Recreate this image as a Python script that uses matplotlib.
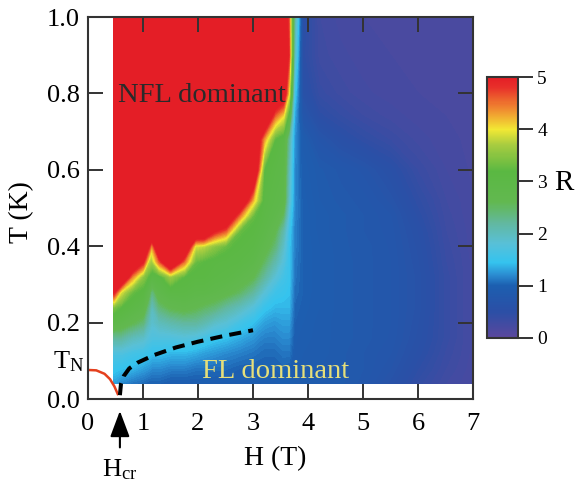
import numpy as np
import matplotlib.pyplot as plt
from matplotlib.colors import LinearSegmentedColormap, Normalize

plt.rcParams['font.family'] = ['Liberation Serif', 'DejaVu Serif']
plt.rcParams['mathtext.fontset'] = 'custom'
plt.rcParams['mathtext.rm'] = 'Liberation Serif'
plt.rcParams['mathtext.it'] = 'Liberation Serif:italic'

# grid of the map: H (T) columns, T (K) rows
H_nodes = [0.47, 0.6, 0.8, 1.0, 1.1, 1.16, 1.3, 1.5, 1.75, 1.95, 2.1, 2.3, 2.5,
           2.75, 3.0, 3.2, 3.4, 3.55, 3.65, 3.75, 3.9, 4.2, 4.6, 5.0, 5.5, 6.0,
           6.5, 7.0]
T_nodes = [0.042, 0.08, 0.12, 0.16, 0.2, 0.24, 0.28, 0.32, 0.36, 0.40, 0.44,
           0.48, 0.52, 0.6, 0.68, 0.74, 0.8, 0.9, 1.0]

# R, one list per H column (T going up); >5 shows as red
R_cols = [
    [1.3, 1.5, 1.7, 2.2, 2.9, 3.4, 5.0, 6, 6, 6, 6, 6, 6, 6, 6, 6, 6, 6, 6],
    [1.2, 1.45, 1.7, 2.2, 2.8, 3.2, 3.9, 6, 6, 6, 6, 6, 6, 6, 6, 6, 6, 6, 6],
    [1.1, 1.4, 1.6, 2.0, 2.6, 3.0, 3.3, 4.4, 6, 6, 6, 6, 6, 6, 6, 6, 6, 6, 6],
    [1.05, 1.3, 1.55, 1.9, 2.4, 2.8, 3.1, 3.5, 5.0, 6, 6, 6, 6, 6, 6, 6, 6, 6, 6],
    [1.0, 1.25, 1.5, 1.75, 2.0, 2.3, 2.7, 3.2, 3.8, 5.0, 6, 6, 6, 6, 6, 6, 6, 6, 6],
    [1.0, 1.2, 1.45, 1.7, 1.85, 1.95, 2.3, 3.0, 3.6, 4.2, 6, 6, 6, 6, 6, 6, 6, 6, 6],
    [1.0, 1.2, 1.45, 1.7, 2.0, 2.4, 2.8, 3.1, 4.6, 6, 6, 6, 6, 6, 6, 6, 6, 6, 6],
    [0.95, 1.15, 1.4, 1.7, 2.1, 2.6, 3.0, 3.6, 6, 6, 6, 6, 6, 6, 6, 6, 6, 6, 6],
    [0.95, 1.15, 1.4, 1.75, 2.2, 2.7, 3.0, 3.2, 4.5, 6, 6, 6, 6, 6, 6, 6, 6, 6, 6],
    [0.95, 1.1, 1.35, 1.7, 2.2, 2.6, 2.9, 3.1, 3.3, 3.9, 6, 6, 6, 6, 6, 6, 6, 6, 6],
    [0.95, 1.1, 1.3, 1.6, 2.1, 2.5, 2.9, 3.1, 3.2, 3.8, 6, 6, 6, 6, 6, 6, 6, 6, 6],
    [0.95, 1.05, 1.25, 1.5, 1.9, 2.4, 2.8, 3.0, 3.1, 3.5, 5.0, 6, 6, 6, 6, 6, 6, 6, 6],
    [0.95, 1.05, 1.2, 1.45, 1.8, 2.2, 2.7, 2.95, 3.05, 3.3, 4.6, 6, 6, 6, 6, 6, 6, 6, 6],
    [0.95, 1.0, 1.15, 1.35, 1.6, 2.0, 2.5, 2.8, 3.0, 3.1, 3.3, 4.5, 6, 6, 6, 6, 6, 6, 6],
    [0.95, 1.0, 1.1, 1.25, 1.45, 1.75, 2.2, 2.6, 2.85, 3.0, 3.1, 3.3, 4.2, 6, 6, 6, 6, 6, 6],
    [0.95, 1.0, 1.05, 1.15, 1.3, 1.5, 1.8, 2.2, 2.5, 2.75, 2.9, 3.0, 3.05, 3.2, 4.3, 6, 6, 6, 6],
    [0.95, 1.0, 1.05, 1.15, 1.25, 1.4, 1.55, 1.8, 2.1, 2.4, 2.6, 2.8, 2.9, 3.0, 3.2, 4.5, 6, 6, 6],
    [0.98, 1.02, 1.1, 1.2, 1.3, 1.4, 1.5, 1.6, 1.75, 1.9, 2.1, 2.5, 2.8, 2.9, 3.0, 4.0, 5.5, 6, 6],
    [0.95, 1.0, 1.1, 1.2, 1.3, 1.4, 1.45, 1.5, 1.5, 1.5, 1.55, 1.7, 1.9, 2.0, 2.2, 3.0, 4.0, 4.8, 4.6],
    [0.92, 0.93, 0.95, 0.97, 1.0, 1.03, 1.07, 1.1, 1.12, 1.15, 1.15, 1.18, 1.2, 1.2, 1.25, 1.35, 1.6, 2.0, 2.2],
    [0.9, 0.9, 0.92, 0.94, 0.96, 0.98, 1.0, 1.0, 1.0, 1.0, 1.0, 1.0, 0.98, 0.95, 0.9, 0.75, 0.6, 0.5, 0.55],
    [0.88, 0.88, 0.9, 0.9, 0.9, 0.92, 0.92, 0.92, 0.92, 0.92, 0.9, 0.9, 0.88, 0.85, 0.7, 0.5, 0.38, 0.3, 0.28],
    [0.85, 0.85, 0.85, 0.86, 0.86, 0.86, 0.86, 0.86, 0.86, 0.85, 0.85, 0.85, 0.82, 0.78, 0.55, 0.4, 0.3, 0.25, 0.22],
    [0.78, 0.8, 0.8, 0.82, 0.82, 0.82, 0.82, 0.82, 0.82, 0.82, 0.8, 0.8, 0.78, 0.7, 0.45, 0.32, 0.25, 0.22, 0.2],
    [0.62, 0.68, 0.72, 0.75, 0.76, 0.76, 0.76, 0.76, 0.76, 0.75, 0.74, 0.72, 0.66, 0.55, 0.35, 0.26, 0.22, 0.2, 0.2],
    [0.42, 0.48, 0.54, 0.58, 0.6, 0.62, 0.62, 0.62, 0.6, 0.58, 0.55, 0.5, 0.45, 0.35, 0.26, 0.22, 0.2, 0.2, 0.2],
    [0.28, 0.32, 0.35, 0.38, 0.38, 0.38, 0.38, 0.38, 0.36, 0.34, 0.32, 0.3, 0.28, 0.24, 0.21, 0.2, 0.2, 0.19, 0.19],
    [0.2, 0.21, 0.22, 0.22, 0.22, 0.22, 0.22, 0.22, 0.22, 0.21, 0.21, 0.2, 0.2, 0.19, 0.19, 0.18, 0.18, 0.18, 0.18],
]

# T_N line (red) and FL crossover (dashed)
TN_H = [0, 0.15, 0.3, 0.4, 0.48, 0.55]
TN_T = [0.076, 0.075, 0.066, 0.052, 0.033, 0.01]
cross_H = [0.58, 0.6, 0.65, 0.75, 0.9, 1.2, 1.6, 2.0, 2.5, 3.0]
cross_T = [0.01, 0.04, 0.06, 0.08, 0.095, 0.115, 0.135, 0.15, 0.166, 0.18]

cb_vals = [0, 0.5, 1.0, 1.2, 1.45, 1.8, 2.2, 2.6, 3.2, 3.7, 4.0, 4.4, 4.8, 5.0]
cb_colors = ['#5b479d', '#2b4fa6', '#1c5fb0', '#2a8ad0', '#35c3ee', '#58c0d8',
             '#62b8a0', '#62b850', '#5ab842', '#a8cc40', '#f2e834', '#f08a30',
             '#e8302a', '#e41e26']
cmap = LinearSegmentedColormap.from_list(
    'R', [(v / 5.0, c) for v, c in zip(cb_vals, cb_colors)])
cmap.set_over(cb_colors[-1])
norm = Normalize(0, 5)

fig = plt.figure(figsize=(5.78, 4.88), dpi=100)
ax = fig.add_axes([88 / 578, 89 / 488, 385 / 578, 382 / 488])
cax = fig.add_axes([487 / 578, 150 / 488, 31 / 578, 261 / 488])

HH, TT = np.meshgrid(H_nodes, T_nodes)
RR = np.array(R_cols).T
cs = ax.contourf(HH, TT, RR, levels=np.linspace(0, 5, 126), cmap=cmap,
                 norm=norm, extend='max')
cs.set_edgecolor('face')
cs.set_linewidth(0.4)
cs.set_rasterized(True)

ax.plot(TN_H, TN_T, color='#e4401e', lw=1.8, solid_capstyle='butt')
ax.plot(cross_H, cross_T, color='k', lw=2.9, linestyle=(0, (3, 1.8)))

ax.set_xlim(0, 7)
ax.set_ylim(0, 1.0)
ax.set_xticks(range(8))
ax.set_yticks([0, 0.2, 0.4, 0.6, 0.8, 1.0])
ax.set_yticklabels(['0.0', '0.2', '0.4', '0.6', '0.8', '1.0'])
ax.tick_params(direction='in', length=10.8, width=1.4, color='#333333',
               labelsize=19, top=True, right=True)
ax.tick_params(axis='x', pad=10)
ax.tick_params(axis='y', pad=6)
for s in ax.spines.values():
    s.set_linewidth(1.5)
    s.set_color('#333333')

ax.set_xlabel('H (T)', fontsize=20, va='center')
ax.xaxis.set_label_coords(0.486, -0.157)
ax.set_ylabel('T (K)', fontsize=20, va='center')
ax.yaxis.set_label_coords(-0.172, 0.49)

ax.text(0.545, 0.777, 'NFL dominant', fontsize=20.5, color='#2a2a2a',
        va='baseline', ha='left')
ax.text(2.07, 0.055, 'FL dominant', fontsize=20.5, color='#e6df7a',
        va='baseline', ha='left')
ax.text(-0.06, 0.081, 'T$_\\mathregular{N}$', fontsize=19, ha='right',
        va='baseline')
ax.annotate('', xy=(0.58, -0.024), xytext=(0.58, -0.134),
            xycoords=('data', 'axes fraction'),
            textcoords=('data', 'axes fraction'),
            arrowprops=dict(arrowstyle='-|>,head_length=0.8,head_width=0.3',
                            color='k', lw=1.5, mutation_scale=20))
ax.text(0.58, -0.185, 'H$_\\mathregular{cr}$', fontsize=19, ha='center',
        va='center', transform=ax.get_xaxis_transform())

cb = fig.colorbar(plt.cm.ScalarMappable(norm=norm, cmap=cmap), cax=cax,
                  ticks=range(6))
cb.outline.set_linewidth(1.5)
cb.outline.set_edgecolor('#333333')
cax.tick_params(direction='out', length=10.8, width=1.4, color='#333333',
                labelsize=14, pad=3)
fig.text(564 / 578, 1 - 183 / 488, 'R', fontsize=21, ha='center', va='center')

fig.savefig('out.png', dpi=100)
